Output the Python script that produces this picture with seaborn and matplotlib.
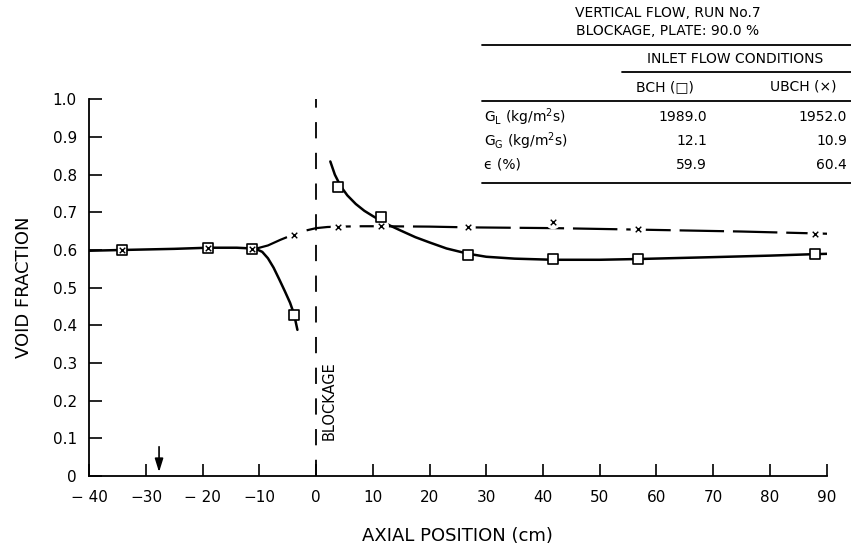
import numpy as np
import pandas as pd
import matplotlib
matplotlib.use("Agg")
import matplotlib.pyplot as plt
from matplotlib.lines import Line2D
import seaborn as sns

# ---------------- data ----------------
tap_x = [-34.2, -19.0, -11.3, -3.9, 3.9, 11.5, 26.8, 41.8, 56.8, 88.0]
bch_void = [0.600, 0.606, 0.603, 0.428, 0.768, 0.687, 0.588, 0.576, 0.576, 0.589]
ubch_void = [0.600, 0.606, 0.603, 0.641, 0.660, 0.663, 0.660, 0.675, 0.655, 0.643]

# hand-drawn fitted curves
bch_up_x = [-40, -34.2, -25, -19, -14, -11.3, -10.5, -9.5, -8.5, -7.5, -6.5, -5.5, -4.6, -3.9, -3.3]
bch_up_y = [0.598, 0.600, 0.603, 0.606, 0.606, 0.604, 0.602, 0.595, 0.578, 0.553, 0.522, 0.490, 0.460, 0.430, 0.388]
bch_dn_x = [2.5, 3.3, 4.3, 5.5, 7.0, 8.5, 10.0, 11.5, 13.0, 15.0, 17.5, 20.0, 23.0, 26.8,
            30.0, 35.0, 41.8, 50.0, 56.8, 70.0, 80.0, 88.0, 90.5]
bch_dn_y = [0.835, 0.800, 0.770, 0.745, 0.722, 0.704, 0.690, 0.677, 0.665, 0.651, 0.634, 0.620,
            0.604, 0.590, 0.582, 0.577, 0.574, 0.574, 0.576, 0.581, 0.585, 0.589, 0.590]
ubch_cx = [-10.5, -8.5, -6.3, -4.0, -2.0, 0.0, 2.0, 4.0, 8.0, 11.5, 20.0, 27.0, 42.0, 57.0, 75.0, 88.0, 90.5]
ubch_cy = [0.604, 0.612, 0.627, 0.641, 0.651, 0.658, 0.661, 0.662, 0.663, 0.663, 0.662, 0.660,
           0.658, 0.654, 0.649, 0.644, 0.643]

x_ticks = [-40, -30, -20, -10, 0, 10, 20, 30, 40, 50, 60, 70, 80, 90]
x_ticklabels = ["− 40", "−30", "− 20", "−10", "0", "10", "20", "30", "40", "50", "60", "70", "80", "90"]
y_ticks = [0, 0.1, 0.2, 0.3, 0.4, 0.5, 0.6, 0.7, 0.8, 0.9, 1.0]
y_ticklabels = ["0", "0.1", "0.2", "0.3", "0.4", "0.5", "0.6", "0.7", "0.8", "0.9", "1.0"]

blockage_x = 0.0
arrow_x = -27.7

table_title = ["VERTICAL FLOW, RUN No.7", "BLOCKAGE, PLATE: 90.0 %"]
table_group = "INLET FLOW CONDITIONS"
table_cols = ["BCH (□)", "UBCH (×)"]
table_rows = [r"G$_\mathrm{L}$ (kg/m$^\mathrm{2}$s)", r"G$_\mathrm{G}$ (kg/m$^\mathrm{2}$s)", "ϵ (%)"]
table_bch = ["1989.0", "12.1", "59.9"]
table_ubch = ["1952.0", "10.9", "60.4"]

# ---------------- plotting ----------------
sns.set_style("ticks")
plt.rcParams["font.family"] = ["DejaVu Sans"]
plt.rcParams["mathtext.fontset"] = "dejavusans"
plt.rcParams["text.color"] = "black"
plt.rcParams["axes.labelcolor"] = "black"
plt.rcParams["xtick.color"] = "black"
plt.rcParams["ytick.color"] = "black"
plt.rcParams["axes.edgecolor"] = "black"

W, H = 851, 550
fig = plt.figure(figsize=(W / 100, H / 100), dpi=100)
ax = fig.add_axes([89.3 / W, 1 - 476 / H, (826.5 - 89.3) / W, (476 - 99.3) / H])

pts = pd.DataFrame({"x": tap_x, "bch": bch_void, "ubch": ubch_void})
c_up = pd.DataFrame({"x": bch_up_x, "y": bch_up_y})
c_dn = pd.DataFrame({"x": bch_dn_x, "y": bch_dn_y})
c_ub = pd.DataFrame({"x": ubch_cx, "y": ubch_cy})

# blockage line
ax.axvline(blockage_x, ymin=0, ymax=1.0, color="black", lw=1.3, dashes=(9, 8), zorder=1)
ax.text(blockage_x + 1.0, 0.095, "BLOCKAGE", rotation=90, ha="left", va="bottom",
        fontsize=10.5, color="black")

# curves
sns.lineplot(data=c_up, x="x", y="y", ax=ax, sort=False, estimator=None,
             color="black", lw=1.8, zorder=2)
sns.lineplot(data=c_dn, x="x", y="y", ax=ax, sort=False, estimator=None,
             color="black", lw=1.8, zorder=2)
sns.lineplot(data=c_ub, x="x", y="y", ax=ax, sort=False, estimator=None,
             color="black", lw=1.6, zorder=2)
ax.lines[-1].set_dashes((20, 4))

# white halo around crosses
halo = pts.iloc[3:]
sns.scatterplot(data=halo, x="x", y="ubch", ax=ax, marker="o", s=120, color="white",
                edgecolor="none", linewidth=0, zorder=3)

# markers
sns.scatterplot(data=pts, x="x", y="bch", ax=ax, marker="s", s=48, facecolor="white",
                edgecolor="black", linewidth=1.2, zorder=4)
sns.scatterplot(data=pts, x="x", y="ubch", ax=ax, marker="x", s=16, color="black",
                linewidth=1.0, zorder=5)

# arrow
ax.annotate("", xy=(arrow_x, 0.003), xytext=(arrow_x, 0.085),
            arrowprops=dict(arrowstyle="-|>,head_length=0.8,head_width=0.25", color="black", lw=1.2))

ax.set_xlim(-40, 90)
ax.set_ylim(0, 1.0)
ax.set_xticks(x_ticks)
ax.set_xticklabels(x_ticklabels)
ax.set_yticks(y_ticks)
ax.set_yticklabels(y_ticklabels)
ax.tick_params(direction="in", length=9, width=1.2, labelsize=11, colors="black")
ax.tick_params(axis="x", pad=10)
ax.tick_params(axis="y", pad=9)
sns.despine(ax=ax)
for s in ["left", "bottom"]:
    ax.spines[s].set_linewidth(1.3)
    ax.spines[s].set_color("black")
ax.set_xlabel("AXIAL POSITION (cm)", fontsize=13, labelpad=16, color="black")
ax.set_ylabel("VOID FRACTION", fontsize=13, labelpad=14, color="black")

# ---------------- table ----------------
def fx(px):
    return px / W

def fy(py):
    return 1 - py / H

tfs = 10
fig.text(fx(668), fy(13), table_title[0], ha="center", va="center", fontsize=tfs)
fig.text(fx(668), fy(31), table_title[1], ha="center", va="center", fontsize=tfs)
fig.text(fx(735), fy(59), table_group, ha="center", va="center", fontsize=tfs)
fig.text(fx(665), fy(87), table_cols[0], ha="center", va="center", fontsize=tfs)
fig.text(fx(803), fy(87), table_cols[1], ha="center", va="center", fontsize=tfs)
row_y = [117, 141, 165]
for ry, lab, v1, v2 in zip(row_y, table_rows, table_bch, table_ubch):
    fig.text(fx(484), fy(ry), lab, ha="left", va="center", fontsize=tfs)
    fig.text(fx(707), fy(ry), v1, ha="right", va="center", fontsize=tfs)
    fig.text(fx(847), fy(ry), v2, ha="right", va="center", fontsize=tfs)

for (x0, x1, yy) in [(482, 851, 45), (622, 851, 72), (482, 851, 101), (482, 851, 183)]:
    fig.add_artist(Line2D([fx(x0), fx(x1)], [fy(yy), fy(yy)], color="black", lw=1.3))

fig.savefig("out.png", dpi=100)
